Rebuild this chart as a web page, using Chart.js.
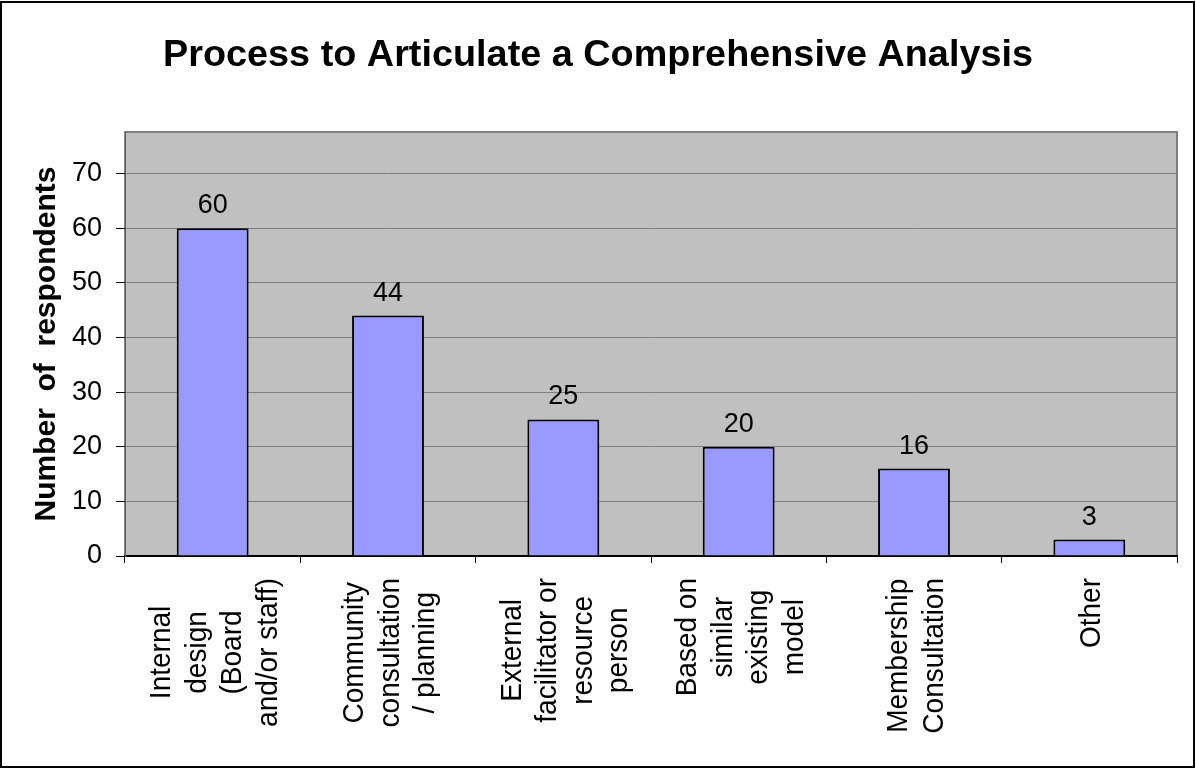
<!DOCTYPE html>
<html>
<head>
<meta charset="utf-8">
<title>Process to Articulate a Comprehensive Analysis</title>
<script src="https://cdn.jsdelivr.net/npm/chart.js@4.4.1/dist/chart.umd.min.js"></script>
<style>
    body { margin: 0; background: #fff; }
    #wrap { width: 1196px; height: 768px; }
</style>
</head>
<body>
<div id="wrap"><canvas id="processChart" width="1196" height="768"></canvas></div>
<script>
// survey answers, one bar per process
var categories = [
    ["Internal", "design", "(Board", "and/or staff)"],
    ["Community", "consultation", "/ planning"],
    ["External", "facilitator or", "resource", "person"],
    ["Based on", "similar", "existing", "model"],
    ["Membership", "Consultation"],
    ["Other"]
];
var respondents = [60, 44, 25, 20, 16, 3];
var chartTitle = "Process to Articulate a Comprehensive Analysis";
var yAxisTitle = "Number  of  respondents";
var yMax = 77.6;
var yStep = 10;

var FONT = "'Liberation Sans', Arial, sans-serif";
var WIDE = 1.08; // text is drawn a little wider than tall

// gray plot area with its frame, drawn under the bars
var plotBackground = {
    id: 'plotBackground',
    beforeDraw: function (chart) {
        var ctx = chart.ctx;
        var a = chart.chartArea;
        ctx.save();
        ctx.fillStyle = '#C0C0C0';
        ctx.fillRect(a.left, a.top, a.right - a.left, a.bottom - a.top);
        ctx.strokeStyle = '#808080';
        ctx.lineWidth = 2;
        ctx.strokeRect(a.left, a.top, a.right - a.left, a.bottom - a.top);
        ctx.restore();
    }
};

// title, axis title, category labels, value labels and outer frame
var chartText = {
    id: 'chartText',
    afterDraw: function (chart) {
        var ctx = chart.ctx;
        var xs = chart.scales.x;
        var ys = chart.scales.y;
        var meta = chart.getDatasetMeta(0);
        ctx.save();
        ctx.fillStyle = '#000';
        ctx.textBaseline = 'alphabetic';

        // main title
        ctx.save();
        ctx.font = 'bold 37px ' + FONT;
        ctx.textAlign = 'center';
        ctx.translate(598, 66);
        ctx.scale(870 / ctx.measureText(chartTitle).width, 1);
        ctx.fillText(chartTitle, 0, 0);
        ctx.restore();

        // y axis title
        ctx.save();
        ctx.font = 'bold 28px ' + FONT;
        ctx.textAlign = 'center';
        ctx.translate(55, (chart.chartArea.top + chart.chartArea.bottom) / 2);
        ctx.rotate(-Math.PI / 2);
        ctx.scale(355 / ctx.measureText(yAxisTitle).width, WIDE);
        ctx.fillText(yAxisTitle, 0, 0);
        ctx.restore();

        // value labels above the bars
        ctx.font = '27px ' + FONT;
        ctx.textAlign = 'center';
        meta.data.forEach(function (bar, i) {
            var v = respondents[i];
            ctx.fillText(String(v), bar.x, ys.getPixelForValue(v) - 15);
        });

        // rotated category labels, lines centred in a block
        ctx.font = '28px ' + FONT;
        var lineGap = 35.5;
        categories.forEach(function (lines, i) {
            var cx = xs.getPixelForValue(i);
            var longest = 0;
            lines.forEach(function (l) {
                longest = Math.max(longest, ctx.measureText(l).width);
            });
            var cy = xs.top + 22 + longest / 2;
            lines.forEach(function (l, j) {
                var lx = cx + (j - (lines.length - 1) / 2) * lineGap;
                ctx.save();
                ctx.translate(lx, cy);
                ctx.rotate(-Math.PI / 2);
                ctx.scale(1, WIDE);
                ctx.fillText(l, 0, 10);
                ctx.restore();
            });
        });

        // frame around the whole chart
        ctx.strokeStyle = '#000';
        ctx.lineWidth = 2;
        ctx.strokeRect(1, 2, 1193, 765);
        ctx.restore();
    }
};

new Chart(document.getElementById('processChart'), {
    type: 'bar',
    data: {
        labels: categories,
        datasets: [{
            data: respondents,
            backgroundColor: '#9999FF',
            borderColor: '#000',
            borderWidth: 2,
            barPercentage: 0.41,
            categoryPercentage: 1.0
        }]
    },
    options: {
        responsive: false,
        animation: false,
        layout: { padding: { left: 0, right: 19, top: 132, bottom: 0 } },
        plugins: {
            legend: { display: false },
            tooltip: { enabled: false },
            title: { display: false }
        },
        scales: {
            x: {
                afterFit: function (scale) { scale.height = 212; },
                grid: {
                    offset: true,
                    drawOnChartArea: false,
                    drawTicks: true,
                    tickLength: 7,
                    tickColor: '#000',
                    tickWidth: 1
                },
                border: { color: '#000', width: 2 },
                ticks: { display: false }
            },
            y: {
                min: 0,
                max: yMax,
                afterFit: function (scale) { scale.width = 125; },
                grid: {
                    color: '#808080',
                    lineWidth: 1,
                    tickLength: 9,
                    tickColor: '#000'
                },
                border: { color: '#606060', width: 1 },
                ticks: {
                    stepSize: yStep,
                    includeBounds: false,
                    padding: 14,
                    color: '#000',
                    font: { family: FONT, size: 27 }
                }
            }
        }
    },
    plugins: [plotBackground, chartText]
});
</script>
</body>
</html>
